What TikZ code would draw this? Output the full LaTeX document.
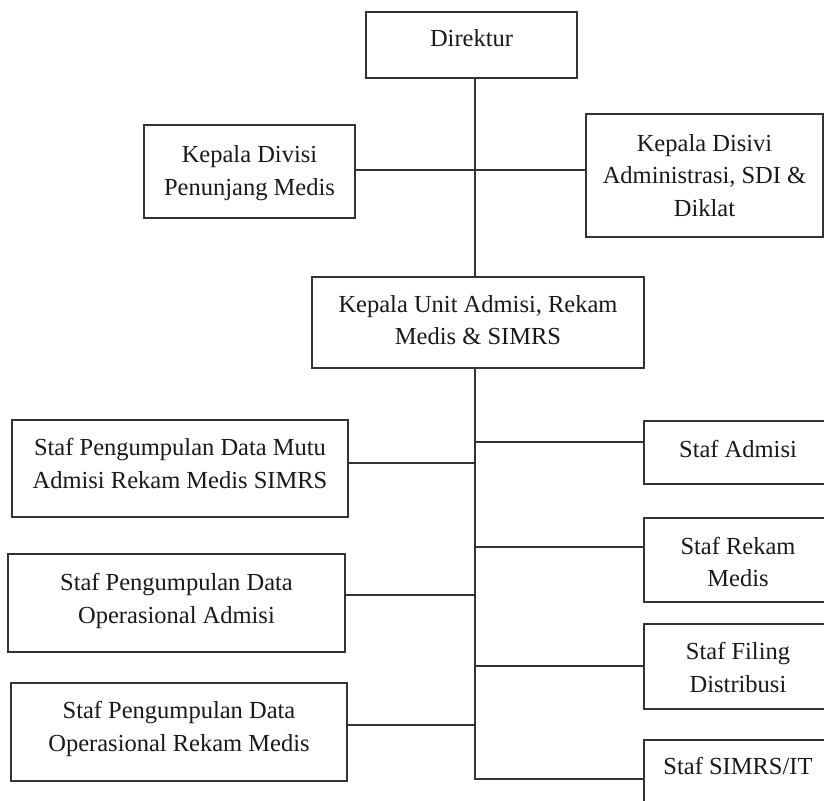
\documentclass[tikz,border=0pt]{standalone}
\usepackage{fontspec}
\setmainfont{Liberation Serif}
\begin{document}
\begin{tikzpicture}[x=1pt,y=-1pt]
	\tikzset{every node/.style={inner sep=0pt, font=\fontsize{24.5}{32.5}\selectfont}}
	\tikzset{kotak/.style={draw=black!80, line width=1.2pt}}
	\tikzset{teks/.style={align=center, text=black!90}}
	\tikzset{garis/.style={draw=black!80, line width=1.2pt}}
	\clip (0,0) rectangle (824,800);
	\fill [white] (0,0) rectangle (824,800);
	% pimpinan
	\node [kotak, minimum width=211, minimum height=66] (direktur) at (471.5,45) {};
	\node [teks] (direktur-t) at ([yshift=7]direktur.center) {Direktur};
	\node [kotak, minimum width=211, minimum height=93] (kdiv) at (249.5,171.5) {};
	\node [teks] (kdiv-t) at ([yshift=-1.5]kdiv.center) {Kepala Divisi\\Penunjang Medis};
	\node [kotak, minimum width=237, minimum height=123] (kadm) at (704.5,175.5) {};
	\node [teks] (kadm-t) at (kadm.center) {Kepala Disivi\\Administrasi, SDI \&\\Diklat};
	\node [kotak, minimum width=332, minimum height=91] (kunit) at (478,322.5) {};
	\node [teks] (kunit-t) at ([yshift=2.5]kunit.center) {Kepala Unit Admisi, Rekam\\Medis \& SIMRS};
	% staf kiri
	\node [kotak, minimum width=336, minimum height=97] (st1) at (180,468.5) {};
	\node [teks] (st1-t) at ([yshift=5]st1.center) {Staf Pengumpulan Data Mutu\\Admisi Rekam Medis SIMRS};
	\node [kotak, minimum width=337, minimum height=98] (st2) at (176.5,603) {};
	\node [teks] (st2-t) at ([yshift=2]st2.center) {Staf Pengumpulan Data\\Operasional Admisi};
	\node [kotak, minimum width=336, minimum height=98] (st3) at (179,732) {};
	\node [teks] (st3-t) at ([yshift=3]st3.center) {Staf Pengumpulan Data\\Operasional Rekam Medis};
	% staf kanan
	\node [kotak, minimum width=188, minimum height=63] (sa) at (738,452.5) {};
	\node [teks] (sa-t) at ([yshift=4]sa.center) {Staf Admisi};
	\node [kotak, minimum width=188, minimum height=84] (sr) at (738,560) {};
	\node [teks] (sr-t) at ([yshift=-2]sr.center) {Staf Rekam\\Medis};
	\node [kotak, minimum width=188, minimum height=85] (sf) at (738,666.5) {};
	\node [teks] (sf-t) at ([yshift=-1]sf.center) {Staf Filing\\Distribusi};
	\node [kotak, minimum width=188, minimum height=70] (ss) at (738,775) {};
	\node [teks] (ss-t) at (738,766) {Staf SIMRS/IT};
	% titik pada garis tengah
	\coordinate (jdiv) at (475,170);
	\coordinate (j1) at (475,463);
	\coordinate (j2) at (475,595);
	\coordinate (j3) at (475,725);
	\coordinate (k1) at (475,442);
	\coordinate (k2) at (475,547);
	\coordinate (k3) at (475,666);
	\coordinate (bot) at (475,779);
	% garis
	\draw [garis] (direktur.south -| bot) -- (kunit.north -| bot);
	\draw [garis] (kunit.south -| bot) -- (bot) -- (bot -| ss.west);
	\draw [garis] (jdiv -| kdiv.east) -- (jdiv -| kadm.west);
	\draw [garis] (j1 -| st1.east) -- (j1);
	\draw [garis] (j2 -| st2.east) -- (j2);
	\draw [garis] (j3 -| st3.east) -- (j3);
	\draw [garis] (k1) -- (k1 -| sa.west);
	\draw [garis] (k2) -- (k2 -| sr.west);
	\draw [garis] (k3) -- (k3 -| sf.west);
\end{tikzpicture}
\end{document}
